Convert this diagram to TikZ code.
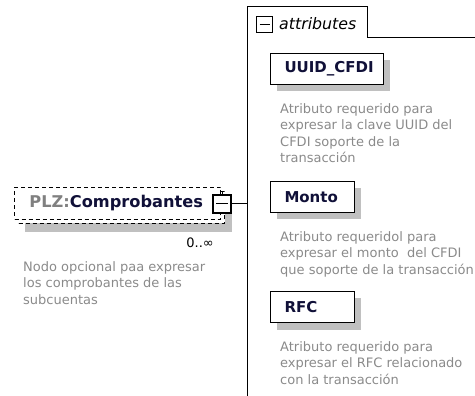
\documentclass[tikz,border=0pt]{standalone}
\usepackage{fontspec}
\setmainfont{DejaVu Sans}
\usetikzlibrary{positioning,shadows}

\definecolor{docgray}{RGB}{138,138,138}
\definecolor{prefixgray}{RGB}{128,128,128}
\definecolor{shadegray}{RGB}{192,192,192}
\definecolor{labelink}{RGB}{16,16,56}

\begin{document}
\begin{tikzpicture}[x=1pt,y=-1pt,
        elembox/.style={draw,dashed,dash pattern=on 4pt off 3pt,line width=1pt,fill=white,
            minimum width=206pt,minimum height=32pt,inner sep=0pt,inner xsep=15pt,
            anchor=north west,align=left,text width=176pt,text=labelink,
            font=\fontsize{16.2}{18}\selectfont\bfseries},
        attrbox/.style={draw,line width=1pt,fill=white,
            drop shadow={shadow xshift=6pt,shadow yshift=-7pt,fill=shadegray,opacity=1},
            minimum height=31pt,inner sep=0pt,inner xsep=14pt,
            anchor=north west,align=left,text width=#1,text=labelink,
            font=\fontsize{15}{18}\selectfont\bfseries},
        docnote/.style={anchor=north west,align=left,inner sep=0pt,text=docgray,
            font=\fontsize{13}{16.5}\selectfont},
        togglebox/.style={draw,line width=1.8pt,fill=white,minimum size=#1,inner sep=0pt}]

    \useasboundingbox (0,0) rectangle (475,396);

    % Shadow and back copy of the element, for its multiplicity
    \fill[shadegray] (25,222) rectangle (232,232);
    \fill[shadegray] (224,196) rectangle (232,232);
    \node[elembox] (compback) at (18,191) {};

    % Element box with its namespace prefix
    \node[elembox] (comp) at (14,187) {\textcolor{prefixgray}{PLZ:}Comprobantes};

    % Occurrence and annotation of the element
    \node[anchor=east,inner sep=0pt,font=\fontsize{13}{16}\selectfont] (compocc) at (214,243) {0..∞};
    \node[docnote] (compdoc) at (23,261) {Nodo opcional paa expresar\\los comprobantes de las\\subcuentas};

    % Collapse button on the element and its connector to the attributes
    \draw[line width=1pt] (222,191) -- (222,196);
    \node[togglebox=18pt] (compbtn) at (222,204) {};
    \draw[line width=1pt] ([xshift=-6pt]compbtn.center) -- ([xshift=6pt]compbtn.center);
    \coordinate (trunk) at (247,204);
    \draw[line width=1pt] (compbtn.east) -- (trunk);

    % Attributes container with its tab
    \draw[line width=1pt] (247,396) -- (247,7) -- (367,7) -- (367,38) -- (475,38);
    \node[togglebox=16pt,line width=1.6pt] (attrbtn) at (264.5,24.5) {};
    \draw[line width=1pt] ([xshift=-5pt]attrbtn.center) -- ([xshift=5pt]attrbtn.center);
    \node[anchor=west,inner sep=0pt,font=\fontsize{15.8}{18}\selectfont\itshape] (attrtitle) at (279,24) {attributes};

    % For each attribute, its box and its annotation
    \foreach \name/\top/\tw/\doc [count=\i] in {
        UUID\_CFDI/53/85pt/{Atributo requerido para\\expresar la clave UUID del\\CFDI soporte de la\\transacción},
        Monto/181/56pt/{Atributo requeridol para\\expresar el monto\ \ del CFDI\\que soporte de la transacción},
        RFC/291/56pt/{Atributo requerido para\\expresar el RFC relacionado\\con la transacción}} {

        \node[attrbox=\tw] (attr\i) at (270,\top) {\name};
        \node[docnote] (attr\i doc) at (280,\top+50) {\doc};

    }

\end{tikzpicture}
\end{document}
